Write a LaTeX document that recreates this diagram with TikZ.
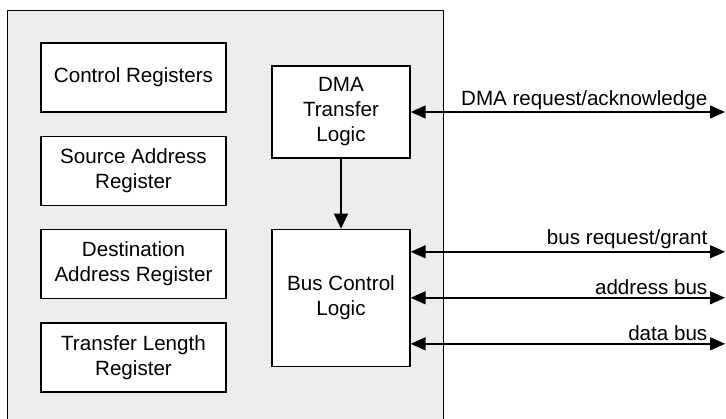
\documentclass[tikz,border=0pt]{standalone}
\usepackage{fontspec}
\setmainfont{Liberation Sans}
\usetikzlibrary{arrows.meta,positioning}
\definecolor{chipgray}{RGB}{237,237,237}

\begin{document}
\begin{tikzpicture}[
  font=\fontsize{10.3}{12.5}\selectfont,
  chip/.style={rectangle, draw=black, fill=chipgray, line width=0.5pt, inner sep=0pt},
  box/.style={rectangle, draw=black, fill=white, line width=0.65pt,
              align=center, inner sep=2pt},
  reg/.style={box, minimum width=92.5pt, minimum height=34.5pt},
  logic/.style={box, minimum width=69pt},
  arrow/.style={-{Triangle[length=7.5pt,width=7pt]}, line width=0.7pt},
  bus/.style={{Triangle[length=7.5pt,width=6.5pt]}-{Triangle[length=7.5pt,width=6.5pt]}, line width=0.7pt},
  lbl/.style={above left, inner sep=1pt, xshift=-7.5pt}
]
\useasboundingbox (0,0) rectangle (363pt,-209pt);

% --- Controller outline ---
\node[chip, minimum width=218pt, minimum height=210pt] (chip) at (112.5pt,-110pt) {};

% --- Left column: registers ---
\node[reg] (ctrl) at (66.75pt,-38.75pt) {Control Registers};
\node[reg, below=11.5pt of ctrl] (src) {Source Address\\Register};
\node[reg, below=11.5pt of src] (dst) {Destination\\Address Register};
\node[reg, below=11.5pt of dst] (len) {Transfer Length\\Register};

% --- Right column: logic blocks ---
\node[logic, minimum height=46pt] (dma) at (170.5pt,-56pt) {DMA\\Transfer\\Logic};
\node[logic, minimum height=68.5pt, below=35pt of dma] (busctl) {Bus Control\\Logic};

% --- Outside signals ---
\coordinate (edge) at (362.5pt,0);
\coordinate (breq) at ([yshift=23pt]busctl.east);
\coordinate (addr) at (busctl.east);
\coordinate (data) at ([yshift=-23pt]busctl.east);

% --- Arrows ---
\draw[arrow] (dma) -- (busctl);
\draw[bus] (dma.east) -- node[lbl, pos=1] {DMA request/acknowledge} (dma.east -| edge);
\draw[bus] (breq) -- node[lbl, pos=1] {bus request/grant} (breq -| edge);
\draw[bus] (addr) -- node[lbl, pos=1] {address bus} (addr -| edge);
\draw[bus] (data) -- node[lbl, pos=1] {data bus} (data -| edge);

\end{tikzpicture}
\end{document}
